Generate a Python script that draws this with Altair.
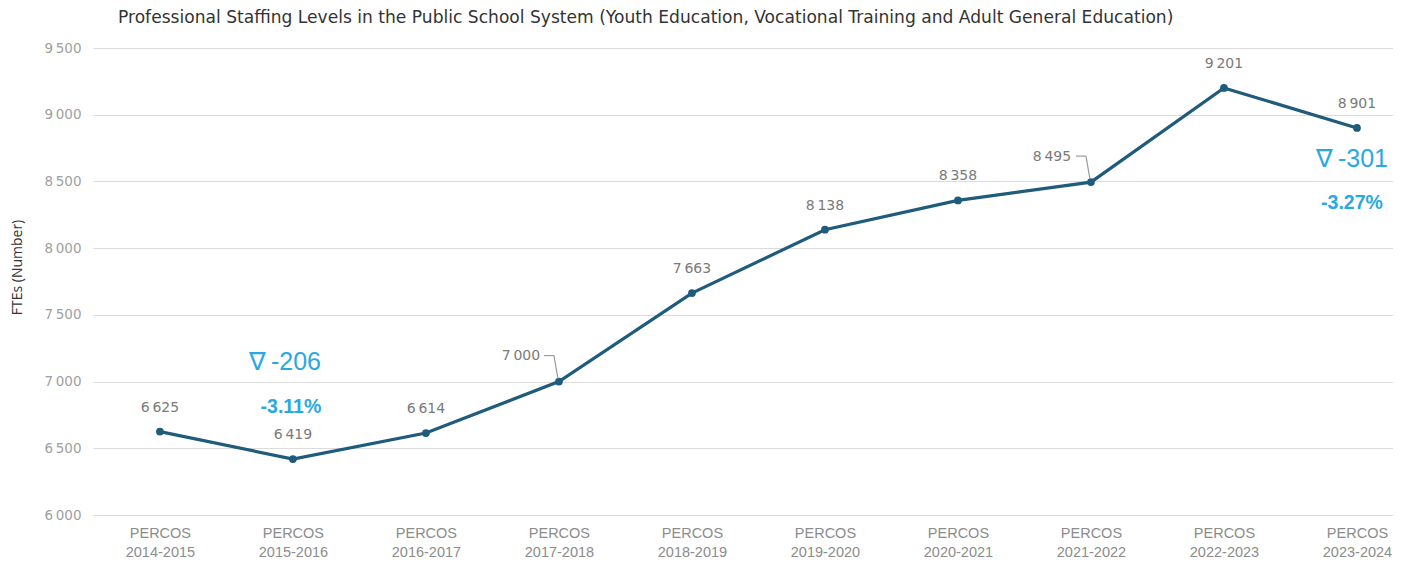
import altair as alt
import pandas as pd

categories = ["PERCOS 2014-2015", "PERCOS 2015-2016", "PERCOS 2016-2017", "PERCOS 2017-2018",
              "PERCOS 2018-2019", "PERCOS 2019-2020", "PERCOS 2020-2021", "PERCOS 2021-2022",
              "PERCOS 2022-2023", "PERCOS 2023-2024"]
ftes = [6625, 6419, 6614, 7000, 7663, 8138, 8358, 8495, 9201, 8901]
callout_categories = ["PERCOS 2017-2018", "PERCOS 2021-2022"]

ann_categories = ["PERCOS 2015-2016", "PERCOS 2023-2024"]
ann_delta = ["\u2207\u2009-206", "\u2207\u2009-301"]
ann_pct = ["-3.11%", "-3.27%"]
ann_side = ["above", "below"]

title_text = ("Professional Staffing Levels in the Public School System "
              "(Youth Education, Vocational Training and Adult General Education)")

df = pd.DataFrame({"category": categories, "value": ftes})
df["callout"] = df["category"].isin(callout_categories)
ann = pd.DataFrame({"category": ann_categories, "delta": ann_delta, "pct": ann_pct, "side": ann_side})
ann = ann.merge(df[["category", "value"]], on="category")

TS = "\u2009"
LINE = "#1f5b7a"
BLUE = "#2aa8e4"
LAB = "#7a7a7a"

x_enc = alt.X("category:N", sort=categories, title=None,
              scale=alt.Scale(type="point", padding=0.387, align=0.65),
              axis=alt.Axis(labelExpr="split(datum.label, ' ')", labelAngle=0,
                            labelColor="#8c8c8c", labelFont="Liberation Sans", labelFontSize=14.5,
                            labelLineHeight=19, labelPadding=11, ticks=False, domain=False,
                            grid=False))
y_enc = alt.Y("value:Q", title="FTEs (Number)",
              scale=alt.Scale(domain=[6000, 9500], nice=False, zero=False),
              axis=alt.Axis(values=[6000, 6500, 7000, 7500, 8000, 8500, 9000, 9500],
                            labelExpr=f"replace(format(datum.value, ','), ',', '{TS}')",
                            labelColor="#a0a0a0", labelFont="DejaVu Sans", labelFontSize=13.5,
                            labelPadding=12, ticks=False, domain=False,
                            gridColor="#dcdcdc", gridWidth=1.2,
                            titleFont="Open Sans", titleFontSize=14, titleFontWeight="normal",
                            titleColor="#333333", titleX=-76, titleY=219, titleAngle=-90,
                            titleBaseline="middle", titleAlign="center"))

base = alt.Chart(df).encode(x=x_enc, y=y_enc)

line = base.mark_line(color=LINE, strokeWidth=3.2,
                      point=alt.OverlayMarkDef(color=LINE, size=60, filled=True, opacity=1))

fmt = f"replace(format(datum.value, ','), ',', '{TS}')"

labels = base.transform_filter("!datum.callout").transform_calculate(lab=fmt).mark_text(
    dy=-24, font="DejaVu Sans", fontSize=14, color=LAB).encode(text="lab:N")

c1 = base.transform_filter(f"datum.category == '{callout_categories[0]}'").transform_calculate(
    lab=fmt).mark_text(dx=-38, dy=-26, font="DejaVu Sans", fontSize=14, color=LAB).encode(text="lab:N")
c2 = base.transform_filter(f"datum.category == '{callout_categories[1]}'").transform_calculate(
    lab=fmt).mark_text(dx=-39, dy=-25, font="DejaVu Sans", fontSize=14, color=LAB).encode(text="lab:N")

lead_base = alt.Chart(df).transform_filter("datum.callout").encode(
    x=x_enc, x2="category:N", y=y_enc, y2="value:Q")
lead_h = lead_base.mark_rule(color="#9a9a9a", strokeWidth=1.2,
                             xOffset=-15, x2Offset=-5, yOffset=-26, y2Offset=-26)
lead_v = lead_base.mark_rule(color="#9a9a9a", strokeWidth=1.2,
                             xOffset=-5, x2Offset=-1, yOffset=-26, y2Offset=-3)

ann_base = alt.Chart(ann).encode(x=x_enc, y=y_enc)
a1 = ann_base.transform_filter("datum.side == 'above'").mark_text(
    dx=-8, dy=-97, font="Liberation Sans", fontSize=25, color=BLUE).encode(text="delta:N")
a2 = ann_base.transform_filter("datum.side == 'above'").mark_text(
    dx=-2, dy=-52, font="Liberation Sans", fontSize=19.5, fontWeight="bold", color=BLUE).encode(text="pct:N")
a3 = ann_base.transform_filter("datum.side == 'below'").mark_text(
    dx=-5, dy=31, font="Liberation Sans", fontSize=25, color=BLUE).encode(text="delta:N")
a4 = ann_base.transform_filter("datum.side == 'below'").mark_text(
    dx=-5, dy=75, font="Liberation Sans", fontSize=19.5, fontWeight="bold", color=BLUE).encode(text="pct:N")

chart = alt.layer(line, labels, c1, c2, lead_h, lead_v, a1, a2, a3, a4).properties(
    width=1300, height=467,
    title=alt.TitleParams(title_text, anchor="start", frame="group", dx=25, offset=15,
                          font="DejaVu Sans", fontSize=17.1, fontWeight="normal", color="#333333"),
    autosize=alt.AutoSizeParams(type="none"),
    padding={"left": 85, "top": 40, "right": 0, "bottom": 47},
).configure_view(stroke=None)

chart.save("out.html", embed_options={"renderer": "svg", "actions": False})
